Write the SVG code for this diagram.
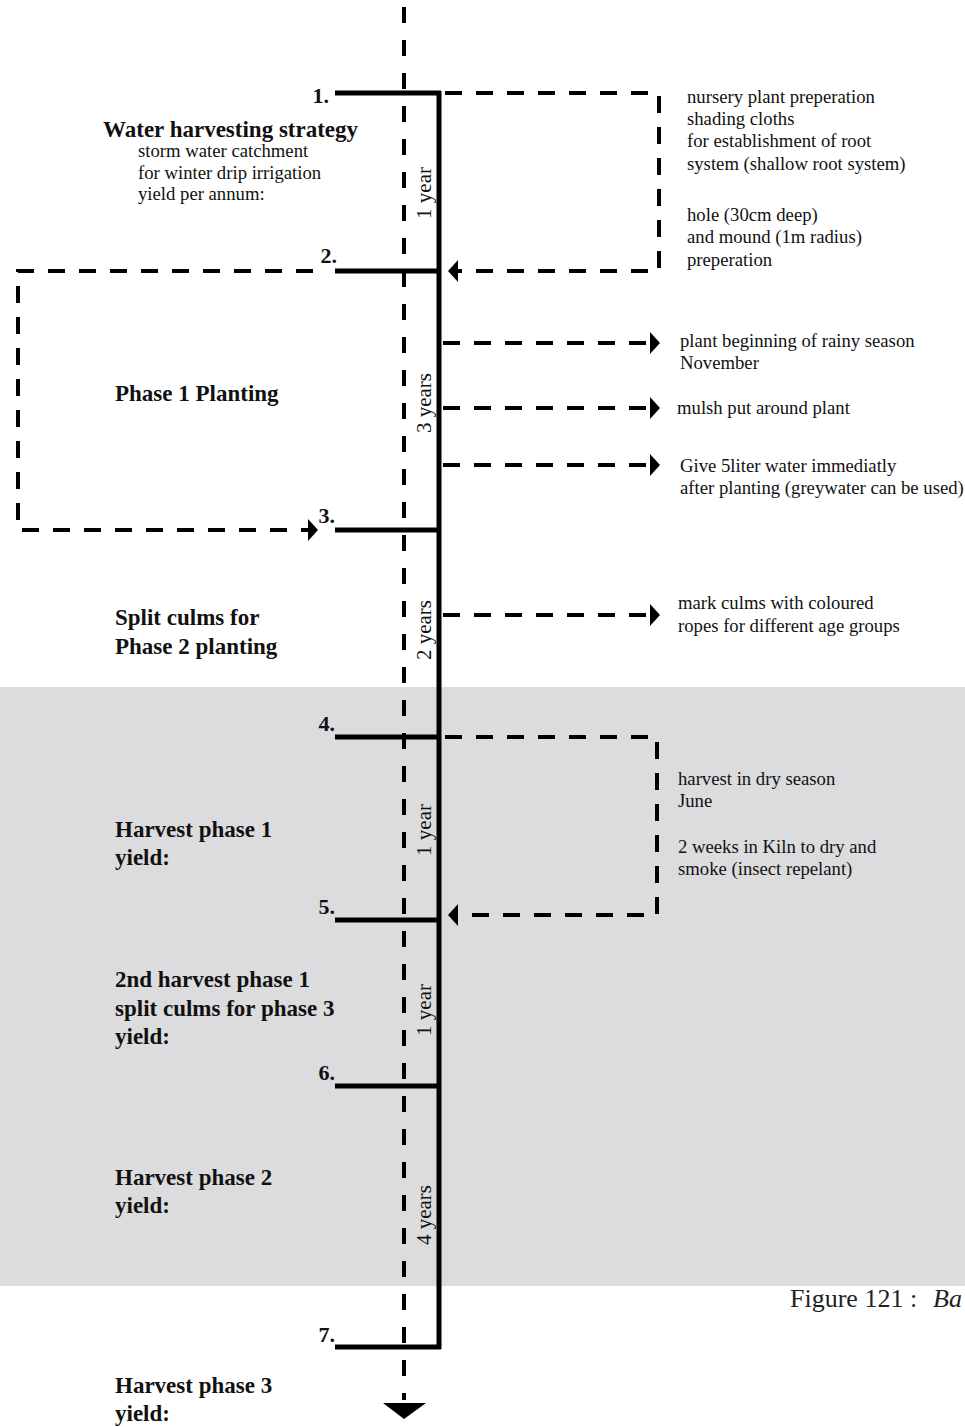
<svg xmlns="http://www.w3.org/2000/svg" width="965" height="1427" viewBox="0 0 965 1427">
<style>
text{font-family:"Liberation Serif","Times New Roman",serif;fill:#111}
.r{font-size:18.7px}
.b{font-size:23px;font-weight:bold}
.n{font-size:22px;font-weight:bold}
.v{font-size:21px}
.solid{stroke:#000;stroke-width:5;fill:none}
.dash{stroke:#000;stroke-width:4;fill:none;stroke-dasharray:17 14}
.axis{stroke:#000;stroke-width:4;fill:none;stroke-dasharray:16 17}
</style>
<defs>
<marker id="ah" markerUnits="userSpaceOnUse" viewBox="0 0 10 22" refX="1" refY="11" markerWidth="10" markerHeight="22" orient="auto">
<path d="M0,0 L10,11 L0,22 Z" fill="#000"/>
</marker>
</defs>
<rect id="band" x="0" y="687" width="965" height="599" fill="#dcdcde"/>
<g id="connectors">
<line class="axis" x1="404" y1="7" x2="404" y2="1400"/>
<path d="M383,1403 L426,1403 L404,1419 Z" fill="#000"/>
<path class="solid" d="M439,91 V1349"/>
<path class="solid" d="M335,93 H441"/>
<path class="solid" d="M335,271 H441"/>
<path class="solid" d="M335,530 H441"/>
<path class="solid" d="M335,737 H441"/>
<path class="solid" d="M335,920 H441"/>
<path class="solid" d="M335,1086 H441"/>
<path class="solid" d="M335,1347 H441"/>
<path class="dash" d="M445,93 H659 V271 H457" marker-end="url(#ah)"/>
<path class="dash" d="M313,271 H18 V530 H309" marker-end="url(#ah)"/>
<path class="dash" d="M443,343 H651" marker-end="url(#ah)"/>
<path class="dash" d="M443,408 H651" marker-end="url(#ah)"/>
<path class="dash" d="M443,465 H651" marker-end="url(#ah)"/>
<path class="dash" d="M443,615 H651" marker-end="url(#ah)"/>
<path class="dash" d="M445,737 H657 V915 H457" marker-end="url(#ah)"/>
</g>
<g id="step1">
<text class="n" x="329" y="103" text-anchor="end">1.</text>
<text class="b" x="103" y="137">Water harvesting strategy</text>
<text class="r" x="138" y="157">storm water catchment</text>
<text class="r" x="138" y="179">for winter drip irrigation</text>
<text class="r" x="138" y="200">yield per annum:</text>
<text class="v" transform="translate(431,193) rotate(-90)" text-anchor="middle">1 year</text>
</g>
<g id="note1">
<text class="r" x="687" y="103">nursery plant preperation</text>
<text class="r" x="687" y="125">shading cloths</text>
<text class="r" x="687" y="147">for establishment of root</text>
<text class="r" x="687" y="170">system (shallow root system)</text>
<text class="r" x="687" y="221">hole (30cm deep)</text>
<text class="r" x="687" y="243">and mound (1m radius)</text>
<text class="r" x="687" y="266">preperation</text>
</g>
<g id="step2">
<text class="n" x="337" y="263" text-anchor="end">2.</text>
<text class="b" x="115" y="401">Phase 1 Planting</text>
<text class="v" transform="translate(431,403) rotate(-90)" text-anchor="middle">3 years</text>
</g>
<g id="notes2">
<text class="r" x="680" y="347">plant beginning of rainy season</text>
<text class="r" x="680" y="369">November</text>
<text class="r" x="677" y="414">mulsh put around plant</text>
<text class="r" x="680" y="472">Give 5liter water immediatly</text>
<text class="r" x="680" y="494">after planting (greywater can be used)</text>
</g>
<g id="step3">
<text class="n" x="335" y="523" text-anchor="end">3.</text>
<text class="b" x="115" y="625">Split culms for</text>
<text class="b" x="115" y="654">Phase 2 planting</text>
<text class="v" transform="translate(431,630) rotate(-90)" text-anchor="middle">2 years</text>
<text class="r" x="678" y="609">mark culms with coloured</text>
<text class="r" x="678" y="632">ropes for different age groups</text>
</g>
<g id="step4">
<text class="n" x="335" y="731" text-anchor="end">4.</text>
<text class="b" x="115" y="837">Harvest phase 1</text>
<text class="b" x="115" y="865">yield:</text>
<text class="v" transform="translate(431,830) rotate(-90)" text-anchor="middle">1 year</text>
<text class="r" x="678" y="785">harvest in dry season</text>
<text class="r" x="678" y="807">June</text>
<text class="r" x="678" y="853">2 weeks in Kiln to dry and</text>
<text class="r" x="678" y="875">smoke (insect repelant)</text>
</g>
<g id="step5">
<text class="n" x="335" y="914" text-anchor="end">5.</text>
<text class="b" x="115" y="987">2nd harvest phase 1</text>
<text class="b" x="115" y="1016">split culms for phase 3</text>
<text class="b" x="115" y="1044">yield:</text>
<text class="v" transform="translate(431,1010) rotate(-90)" text-anchor="middle">1 year</text>
</g>
<g id="step6">
<text class="n" x="335" y="1080" text-anchor="end">6.</text>
<text class="b" x="115" y="1185">Harvest phase 2</text>
<text class="b" x="115" y="1213">yield:</text>
<text class="v" transform="translate(431,1215) rotate(-90)" text-anchor="middle">4 years</text>
</g>
<g id="step7">
<text class="n" x="335" y="1342" text-anchor="end">7.</text>
<text class="b" x="115" y="1393">Harvest phase 3</text>
<text class="b" x="115" y="1421">yield:</text>
</g>
<g id="caption">
<text x="790" y="1307" style="font-size:26px;fill:#222">Figure 121 :</text>
<text x="933" y="1307" style="font-size:26px;font-style:italic;fill:#222">Ba</text>
</g>
</svg>
